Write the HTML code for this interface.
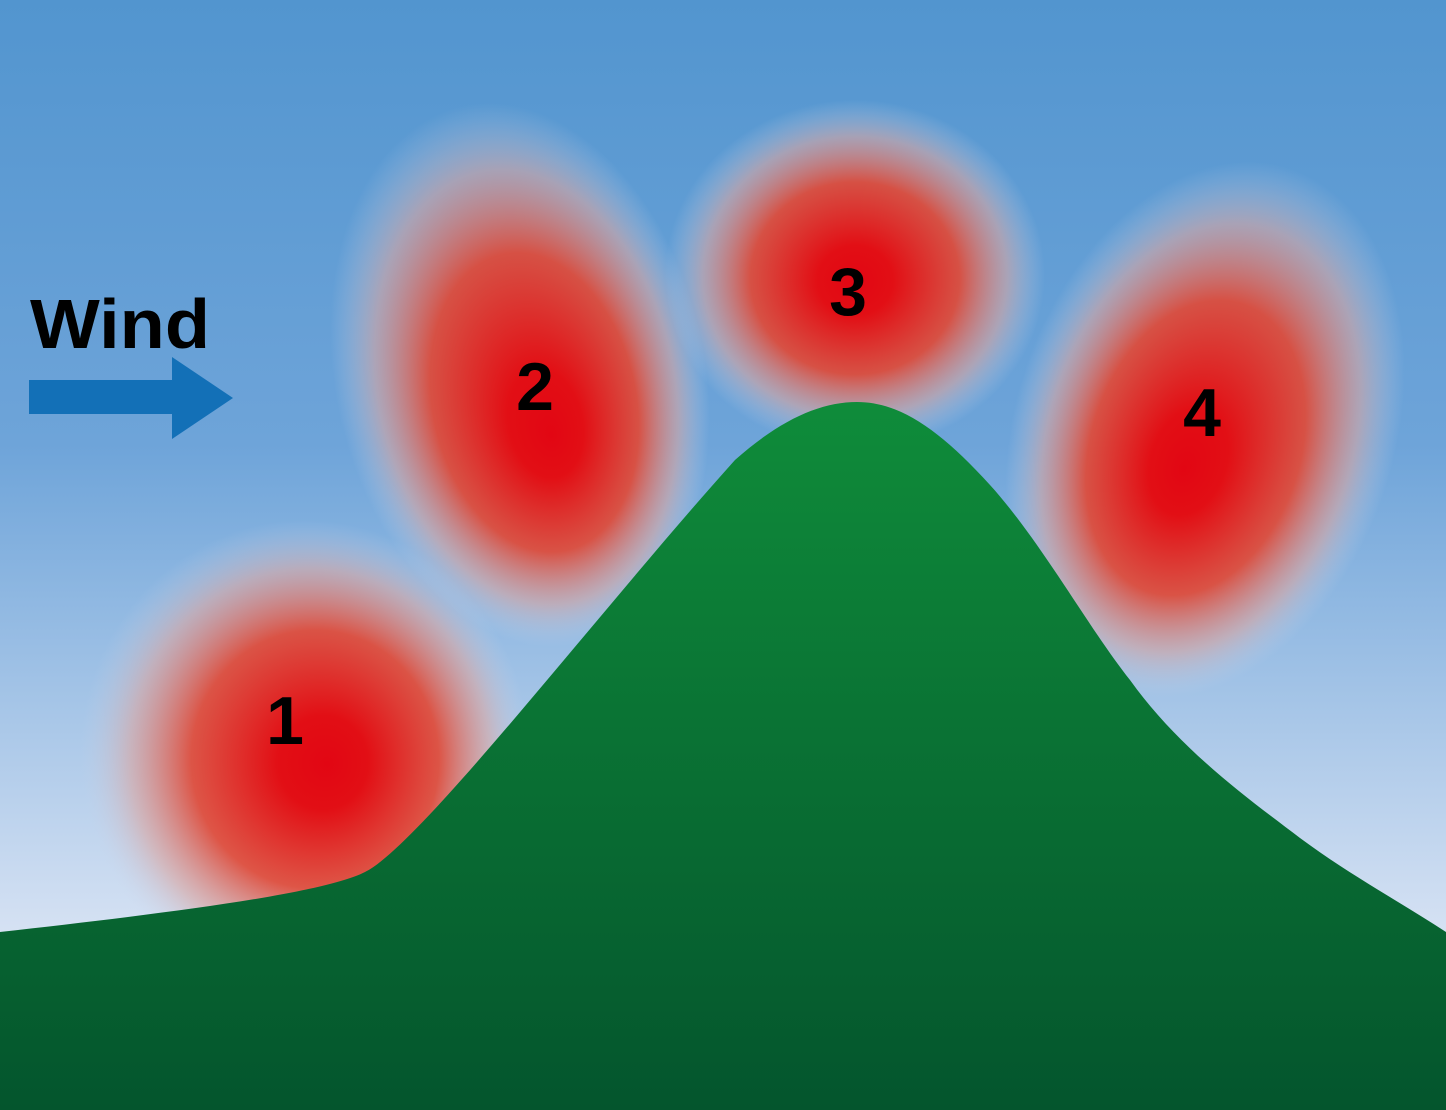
<!DOCTYPE html>
<html><head><meta charset="utf-8"><style>
html,body{margin:0;padding:0;width:1446px;height:1110px;overflow:hidden}
svg{display:block}
text{font-family:"Liberation Sans","DejaVu Sans",sans-serif;font-weight:bold;fill:#000}
</style></head><body>
<svg width="1446" height="1110" viewBox="0 0 1446 1110" xmlns="http://www.w3.org/2000/svg">
<defs>
<linearGradient id="sky" x1="0" y1="0" x2="0" y2="1">
<stop offset="0" stop-color="#5295cf"/>
<stop offset="0.4" stop-color="#6ea4d9"/>
<stop offset="0.85" stop-color="#d8e3f4"/>
<stop offset="1" stop-color="#e4ecf7"/>
</linearGradient>
<linearGradient id="hill" x1="0" y1="0" x2="0" y2="1">
<stop offset="0" stop-color="#0f8c3a"/>
<stop offset="1" stop-color="#04552d"/>
</linearGradient>
<radialGradient id="b1" fx="0.55" fy="0.52">
<stop offset="0" stop-color="#e20613"/>
<stop offset="0.2" stop-color="#e20f15"/>
<stop offset="0.55" stop-color="#e04a38" stop-opacity="0.92"/>
<stop offset="0.8" stop-color="#d9a6a2" stop-opacity="0.6"/>
<stop offset="1" stop-color="#c8d4ea" stop-opacity="0"/>
</radialGradient>
<radialGradient id="b2" fx="0.55" fy="0.62">
<stop offset="0" stop-color="#e20613"/>
<stop offset="0.2" stop-color="#e20f15"/>
<stop offset="0.55" stop-color="#e04a38" stop-opacity="0.92"/>
<stop offset="0.8" stop-color="#d9a6a2" stop-opacity="0.6"/>
<stop offset="1" stop-color="#c8d4ea" stop-opacity="0"/>
</radialGradient>
<radialGradient id="b3" fx="0.5" fy="0.52">
<stop offset="0" stop-color="#e20613"/>
<stop offset="0.2" stop-color="#e20f15"/>
<stop offset="0.55" stop-color="#e04a38" stop-opacity="0.92"/>
<stop offset="0.8" stop-color="#d9a6a2" stop-opacity="0.6"/>
<stop offset="1" stop-color="#c8d4ea" stop-opacity="0"/>
</radialGradient>
<radialGradient id="b4" fx="0.48" fy="0.58">
<stop offset="0" stop-color="#e20613"/>
<stop offset="0.2" stop-color="#e20f15"/>
<stop offset="0.55" stop-color="#e04a38" stop-opacity="0.92"/>
<stop offset="0.8" stop-color="#d9a6a2" stop-opacity="0.6"/>
<stop offset="1" stop-color="#c8d4ea" stop-opacity="0"/>
</radialGradient>
</defs>
<rect width="1446" height="1110" fill="url(#sky)"/>
<ellipse cx="305" cy="755" rx="225" ry="235" fill="url(#b1)"/>
<ellipse cx="520" cy="375" rx="185" ry="275" transform="rotate(-12 520 375)" fill="url(#b2)"/>
<ellipse cx="855" cy="275" rx="190" ry="175" fill="url(#b3)"/>
<ellipse cx="1205" cy="430" rx="190" ry="275" transform="rotate(18 1205 430)" fill="url(#b4)"/>
<path d="M0,932 C150,915 320,895 365,872 C420,845 600,610 735,460 C780,420 820,402 857,402 C900,402 940,430 990,485 C1040,540 1090,630 1130,680 C1180,750 1250,800 1300,838 C1350,875 1400,902 1446,932 L1446,1110 L0,1110 Z" fill="url(#hill)"/>
<text x="30" y="348" font-size="70" textLength="180" lengthAdjust="spacingAndGlyphs">Wind</text>
<path d="M29,380 L172,380 L172,357 L233,398 L172,439 L172,414 L29,414 Z" fill="#1370b7"/>
<text x="285" y="744" font-size="68" text-anchor="middle">1</text>
<text x="535" y="410" font-size="68" text-anchor="middle">2</text>
<text x="848" y="315" font-size="68" text-anchor="middle">3</text>
<text x="1202" y="436" font-size="68" text-anchor="middle">4</text>
</svg>
</body></html>
